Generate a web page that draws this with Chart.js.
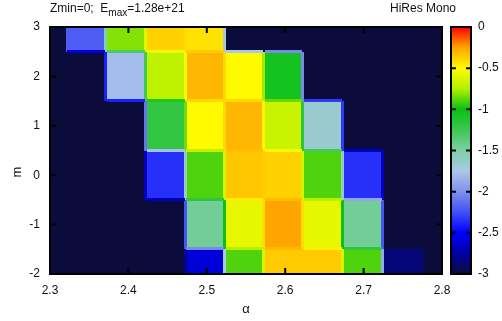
<!DOCTYPE html>
<html>
<head>
<meta charset="utf-8">
<script src="https://cdn.jsdelivr.net/npm/chart.js@4.4.0/dist/chart.umd.min.js"></script>
<style>
  html, body { margin: 0; padding: 0; background: #fff; }
  #wrap { width: 502px; height: 321px; }
</style>
</head>
<body>
<div id="wrap"><canvas id="heatChart"></canvas></div>
<script>
// cell centres
const alphaCenters = [2.346, 2.397, 2.448, 2.498, 2.548, 2.598, 2.648, 2.699, 2.750];
const alphaStep = 0.0506;
const mRows = [3, 2, 1, 0, -1, -2];
// log10(E/Emax), one row per m (top row m=3)
const logE = [
  [-2.2, -0.82, -0.38, -0.43, -3, -3, -3, -3, -3],
  [-3, -1.8, -0.72, -0.3, -0.5, -1.05, -3, -3, -3],
  [-3, -3, -1.2, -0.5, -0.3, -0.68, -1.65, -3, -3],
  [-3, -3, -2.35, -0.9, -0.35, -0.38, -0.9, -2.35, -3],
  [-3, -3, -3, -1.45, -0.58, -0.25, -0.58, -1.45, -3],
  [-3, -3, -3, -2.6, -0.9, -0.36, -0.36, -0.9, -2.85]
];
const xTicks = [2.3, 2.4, 2.5, 2.6, 2.7, 2.8];
const yTicks = [-2, -1, 0, 1, 2, 3];
const cbTicks = [0, -0.5, -1, -1.5, -2, -2.5, -3];

// palette stops taken from the colour box
const palette = [
  [-3, [12, 12, 60]],
  [-2.75, [0, 0, 160]],
  [-2.5, [0, 0, 255]],
  [-2.25, [64, 80, 245]],
  [-2.0, [128, 144, 235]],
  [-1.75, [170, 200, 232]],
  [-1.5, [128, 208, 168]],
  [-1.25, [60, 200, 80]],
  [-1.0, [10, 192, 20]],
  [-0.75, [180, 240, 0]],
  [-0.5, [255, 250, 0]],
  [-0.25, [255, 165, 0]],
  [0, [255, 0, 0]]
];

function colorOf(v) {
  if (v <= palette[0][0]) return 'rgb(' + palette[0][1].join(',') + ')';
  for (let i = 1; i < palette.length; i++) {
    if (v <= palette[i][0]) {
      const [v0, c0] = palette[i - 1], [v1, c1] = palette[i];
      const t = (v - v0) / (v1 - v0);
      const c = c0.map((a, k) => Math.round(a + (c1[k] - a) * t));
      return 'rgb(' + c.join(',') + ')';
    }
  }
  return 'rgb(255,0,0)';
}

const FONT = 'Liberation Sans, Arial, sans-serif';

const heatmapPlugin = {
  id: 'heatmap',
  beforeDatasetsDraw(chart) {
    const ctx = chart.ctx;
    const a = chart.chartArea;
    const xs = chart.scales.x, ys = chart.scales.y, cb = chart.scales.cb;
    const cellX = j => [Math.round(xs.getPixelForValue(alphaCenters[j] - alphaStep / 2)),
                        Math.round(xs.getPixelForValue(alphaCenters[j] + alphaStep / 2))];
    const cellY = i => [Math.round(ys.getPixelForValue(mRows[i] + 0.5)),
                        Math.round(ys.getPixelForValue(mRows[i] - 0.5))];

    ctx.save();
    ctx.beginPath();
    ctx.rect(a.left, a.top, a.right - a.left, a.bottom - a.top);
    ctx.clip();
    ctx.fillStyle = colorOf(-3);
    ctx.fillRect(a.left, a.top, a.right - a.left, a.bottom - a.top);
    mRows.forEach((m, i) => {
      const [y0, y1] = cellY(i);
      alphaCenters.forEach((al, j) => {
        const [x0, x1] = cellX(j);
        ctx.fillStyle = colorOf(logE[i][j]);
        ctx.fillRect(x0, y0, x1 - x0, y1 - y0);
      });
    });
    // blended seams between neighbouring cells
    mRows.forEach((m, i) => {
      const [y0, y1] = cellY(i);
      for (let j = 0; j < alphaCenters.length - 1; j++) {
        const p = logE[i][j], q = logE[i][j + 1];
        if (p === q) continue;
        const x = cellX(j)[1];
        ctx.fillStyle = colorOf((p + q) / 2);
        ctx.fillRect(x - 2, y0, 3, y1 - y0);
      }
    });
    for (let i = 0; i < mRows.length - 1; i++) {
      const y = cellY(i)[1];
      alphaCenters.forEach((al, j) => {
        const p = logE[i][j], q = logE[i + 1][j];
        if (p === q) return;
        const [x0, x1] = cellX(j);
        ctx.fillStyle = colorOf((p + q) / 2);
        ctx.fillRect(x0 + 1, y - 2, x1 - x0 - 2, 3);
      });
    }
    ctx.restore();

    // inward ticks, mirrored on all four sides
    ctx.save();
    ctx.strokeStyle = '#000';
    ctx.lineWidth = 2;
    ctx.beginPath();
    xTicks.forEach(v => {
      const x = xs.getPixelForValue(v);
      ctx.moveTo(x, a.bottom); ctx.lineTo(x, a.bottom - 6);
      ctx.moveTo(x, a.top); ctx.lineTo(x, a.top + 6);
    });
    yTicks.forEach(v => {
      const y = ys.getPixelForValue(v);
      ctx.moveTo(a.left, y); ctx.lineTo(a.left + 6, y);
      ctx.moveTo(a.right, y); ctx.lineTo(a.right - 6, y);
    });
    ctx.stroke();
    ctx.strokeRect(a.left, a.top, a.right - a.left, a.bottom - a.top);

    // colour box
    const bx0 = a.right + 9, bx1 = a.right + 29;
    const top = cb.getPixelForValue(0), bot = cb.getPixelForValue(-3);
    for (let y = Math.floor(top); y < bot; y++) {
      ctx.fillStyle = colorOf(cb.getValueForPixel(y + 0.5));
      ctx.fillRect(bx0, y, bx1 - bx0, 1);
    }
    ctx.beginPath();
    cbTicks.forEach(v => {
      const y = cb.getPixelForValue(v);
      ctx.moveTo(bx0, y); ctx.lineTo(bx0 + 5, y);
      ctx.moveTo(bx1, y); ctx.lineTo(bx1 - 5, y);
    });
    ctx.stroke();
    ctx.strokeRect(bx0, top, bx1 - bx0, bot - top);
    ctx.restore();
  },
  afterDraw(chart) {
    const ctx = chart.ctx;
    ctx.save();
    ctx.fillStyle = '#111';
    ctx.textBaseline = 'alphabetic';
    ctx.font = '12px ' + FONT;
    let x = 50;
    const pre = 'Zmin=0;  E';
    ctx.fillText(pre, x, 12);
    x += ctx.measureText(pre).width;
    ctx.font = '10px ' + FONT;
    ctx.fillText('max', x, 16);
    x += ctx.measureText('max').width;
    ctx.font = '12px ' + FONT;
    ctx.fillText('=1.28e+21', x, 12);
    ctx.fillText('HiRes Mono', 390, 12);

    // y-axis title sits a little below the middle in the original
    ctx.font = '13px ' + FONT;
    ctx.translate(17, 172);
    ctx.rotate(-Math.PI / 2);
    ctx.textAlign = 'center';
    ctx.textBaseline = 'middle';
    ctx.fillText('m', 0, 0);
    ctx.restore();
  }
};

const tickFont = { family: FONT, size: 12 };

new Chart(document.getElementById('heatChart').getContext('2d'), {
  type: 'scatter',
  data: { datasets: [{ data: [] }] },
  options: {
    responsive: true,
    maintainAspectRatio: false,
    animation: false,
    layout: { padding: { top: 27, left: 0, right: 0, bottom: 0 } },
    plugins: { legend: { display: false }, tooltip: { enabled: false } },
    scales: {
      x: {
        type: 'linear', min: 2.3, max: 2.8,
        afterBuildTicks: s => { s.ticks = xTicks.map(v => ({ value: v })); },
        afterFit: s => { s.height = 47; },
        ticks: { font: tickFont, color: '#111', padding: 9, callback: v => v.toFixed(1) },
        grid: { display: false, drawTicks: false },
        border: { display: false },
        title: { display: true, text: 'α', font: { family: FONT, size: 13 }, color: '#111', padding: { top: 0, bottom: 4 } }
      },
      y: {
        type: 'linear', min: -2, max: 3,
        afterBuildTicks: s => { s.ticks = yTicks.map(v => ({ value: v })); },
        afterFit: s => { s.width = 50; },
        ticks: { font: tickFont, color: '#111', padding: 10, callback: v => String(v) },
        grid: { display: false, drawTicks: false },
        border: { display: false }
      },
      cb: {
        type: 'linear', position: 'right', min: -3, max: 0,
        afterBuildTicks: s => { s.ticks = cbTicks.map(v => ({ value: v })); },
        afterFit: s => { s.width = 60; },
        ticks: { font: tickFont, color: '#111', padding: 2, callback: v => String(v) },
        // invisible tick marks only push the labels past the colour box
        grid: { display: true, drawOnChartArea: false, drawTicks: true, tickLength: 34, color: 'rgba(0,0,0,0)' },
        border: { display: false }
      }
    }
  },
  plugins: [heatmapPlugin]
});
</script>
</body>
</html>
